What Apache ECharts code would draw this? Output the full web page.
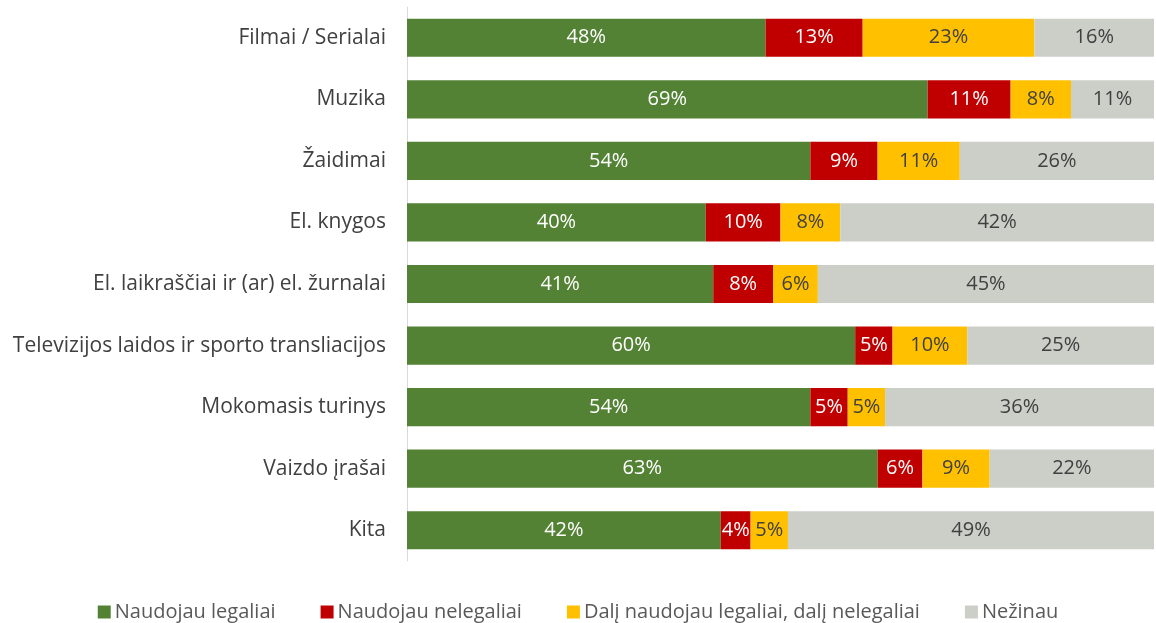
<!DOCTYPE html>
<html>
<head>
<meta charset="utf-8">
<script src="https://cdn.jsdelivr.net/npm/echarts@6/dist/echarts.min.js"></script>
<style>
  html, body { margin: 0; padding: 0; background: #fff; }
  #chart { width: 1156px; height: 623px; }
</style>
</head>
<body>
<div id="chart"></div>
<script>
// kategorijos (iš viršaus į apačią)
const categories = [
  'Filmai / Serialai',
  'Muzika',
  'Žaidimai',
  'El. knygos',
  'El. laikraščiai ir (ar) el. žurnalai',
  'Televizijos laidos ir sporto transliacijos',
  'Mokomasis turinys',
  'Vaizdo įrašai',
  'Kita'
];

const seriesNames = ['Naudojau legaliai', 'Naudojau nelegaliai', 'Dalį naudojau legaliai, dalį nelegaliai', 'Nežinau'];

const legal = [48, 69, 54, 40, 41, 60, 54, 63, 42];
const illegal = [13, 11, 9, 10, 8, 5, 5, 6, 4];
const partly = [23, 8, 11, 8, 6, 10, 5, 9, 5];
const unknown = [16, 11, 26, 42, 45, 25, 36, 22, 49];

const colors = ['#548235', '#C00000', '#FFC000', '#CBCFC8'];
const labelColors = ['#ffffff', '#ffffff', '#404040', '#404040'];

const allData = [legal, illegal, partly, unknown];
// 100% sudėtinė juosta: kiekvienos eilutės suma
const totals = categories.map((c, i) => allData.reduce((s, arr) => s + arr[i], 0));

const font = '"Open Sans", "Noto Sans", sans-serif';

const chart = echarts.init(document.getElementById('chart'));

const option = {
  animation: false,
  grid: {
    left: 407,
    right: 2,
    top: 7,
    bottom: 62
  },
  legend: {
    top: 597,
    left: 'center',
    itemWidth: 13,
    itemHeight: 13,
    itemGap: 45,
    icon: 'rect',
    textStyle: { fontFamily: font, fontSize: 20, color: '#595959', padding: [0, 0, 0, -1] },
    data: seriesNames
  },
  xAxis: {
    type: 'value',
    min: 0,
    max: 100,
    show: false
  },
  yAxis: {
    type: 'category',
    inverse: true,
    data: categories,
    axisLine: { show: true, lineStyle: { color: '#D9D9D9', width: 1 } },
    axisTick: { show: false },
    axisLabel: { fontFamily: font, fontSize: 21, color: '#404040', margin: 21 }
  },
  series: seriesNames.map((name, k) => ({
    name: name,
    type: 'bar',
    stack: 'total',
    barCategoryGap: '38%',
    itemStyle: { color: colors[k] },
    label: {
      show: true,
      position: 'inside',
      fontFamily: font,
      fontSize: 20,
      color: labelColors[k],
      formatter: p => allData[k][p.dataIndex] + '%'
    },
    data: allData[k].map((v, i) => v / totals[i] * 100)
  }))
};

chart.setOption(option);
</script>
</body>
</html>
